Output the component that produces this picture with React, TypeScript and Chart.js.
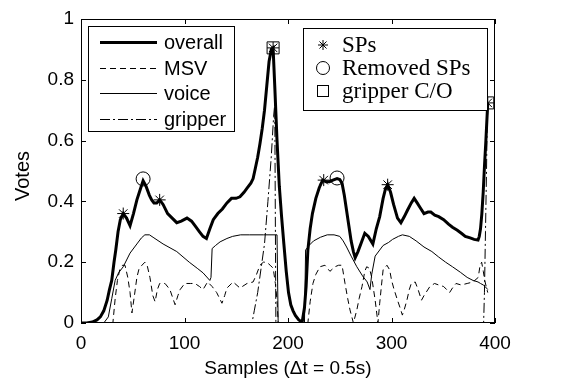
import { useEffect, useRef } from 'react';
import { Chart, registerables } from 'chart.js';

Chart.register(...registerables);

// ---- data (samples, votes) ----
const overallSamples = [0, 5.5, 11, 15.4, 18.7, 22, 25.3, 27.5, 29.7, 31.9, 33.6, 35.8, 38, 40.8, 44, 47.4, 50.7, 54, 57.3, 60, 62.8, 66.1, 68.3, 70.5, 73.2, 76, 79.3, 83.7, 88.1, 92.5, 96.9, 102.4, 106.8, 110.1, 114.5, 117.9, 121.2, 124.5, 127.8, 132.2, 136.6, 141, 145.4, 149.8, 153.6, 157.5, 160.8, 164.1, 166.3, 168.5, 170.7, 172.9, 175.1, 177.3, 179.5, 181.7, 183.9, 185.6, 187.2, 189.4, 191.6, 193.8, 196, 198.3, 200.5, 202.7, 204.9, 207.1, 210.4, 213.7, 215.9, 217.5, 219.2, 221.4, 223.6, 226.9, 230.2, 233.5, 236.8, 240.1, 243.4, 247.4, 250, 252.2, 254.4, 256.6, 258.8, 261, 263.2, 264.9, 267.6, 270.9, 274.2, 277.6, 282, 285.3, 288.6, 291.9, 294.1, 296.3, 299.1, 302, 305.8, 309.1, 312.4, 315.3, 319.1, 321.9, 324.8, 327.6, 331.4, 335.2, 338, 341.8, 345.6, 350.4, 355.1, 358.9, 363.6, 367.5, 371.3, 376, 379.8, 383.6, 384.8, 386, 387.3, 388.6, 389.9, 391.2, 392.2, 393];
const overallVotes = [0, 0, 0.003, 0.01, 0.02, 0.04, 0.075, 0.11, 0.14, 0.2, 0.24, 0.3, 0.34, 0.36, 0.345, 0.32, 0.36, 0.405, 0.44, 0.468, 0.45, 0.42, 0.405, 0.395, 0.395, 0.405, 0.39, 0.36, 0.345, 0.33, 0.335, 0.345, 0.335, 0.32, 0.3, 0.285, 0.278, 0.31, 0.34, 0.36, 0.375, 0.395, 0.41, 0.41, 0.415, 0.43, 0.445, 0.46, 0.475, 0.51, 0.545, 0.59, 0.64, 0.7, 0.78, 0.86, 0.9, 0.905, 0.78, 0.6, 0.45, 0.35, 0.26, 0.17, 0.1, 0.06, 0.04, 0.025, 0.01, 0.003, 0.05, 0.12, 0.24, 0.31, 0.36, 0.41, 0.445, 0.47, 0.465, 0.465, 0.47, 0.475, 0.472, 0.46, 0.42, 0.37, 0.32, 0.27, 0.235, 0.215, 0.235, 0.265, 0.295, 0.285, 0.26, 0.31, 0.35, 0.41, 0.44, 0.455, 0.43, 0.39, 0.345, 0.33, 0.35, 0.37, 0.395, 0.41, 0.395, 0.38, 0.36, 0.365, 0.365, 0.355, 0.35, 0.34, 0.325, 0.315, 0.305, 0.295, 0.285, 0.28, 0.275, 0.273, 0.285, 0.31, 0.36, 0.43, 0.52, 0.6, 0.67, 0.724];

const msvSamples = [0, 30.8, 33, 35.2, 37.4, 40.2, 42.5, 45.2, 47.4, 49.2, 51.2, 54, 56.2, 58.9, 61.7, 63.9, 66.6, 69.4, 71.6, 73.8, 76, 81.2, 85.9, 90.9, 93.6, 95.8, 100.2, 105.7, 110.1, 114.5, 117.9, 122.3, 126.7, 131.1, 136.2, 138.8, 141, 147, 153.6, 160.4, 166.3, 169.6, 172.9, 176.2, 179.5, 182.8, 185.7, 187.8, 189.4, 190.5, 219.2, 221.4, 224.1, 226.9, 230.9, 235.7, 240.5, 245.4, 248.9, 252.2, 255.1, 257.7, 259.9, 263.2, 266.5, 268.7, 271.5, 274.2, 276, 278.7, 280.9, 284.2, 286.9, 288.6, 290.2, 291.9, 295.6, 298.2, 300.1, 302.5, 305.8, 308.3, 310.5, 312.4, 314.9, 317.2, 319.1, 322.9, 325.7, 329, 331.4, 333.3, 337.1, 341.6, 345.6, 350.4, 353.3, 356.1, 358.9, 362.3, 367.4, 373.1, 378.8, 383.8, 385.6, 387.1, 388.7, 390.1, 391.5, 393];
const msvVotes = [0, 0, 0.08, 0.14, 0.175, 0.19, 0.19, 0.15, 0.1, 0.033, 0.08, 0.15, 0.18, 0.19, 0.2, 0.19, 0.15, 0.09, 0.07, 0.11, 0.13, 0.13, 0.11, 0.06, 0.09, 0.11, 0.13, 0.13, 0.13, 0.12, 0.11, 0.135, 0.12, 0.1, 0.065, 0.09, 0.115, 0.135, 0.115, 0.13, 0.135, 0.16, 0.19, 0.2, 0.2, 0.19, 0.18, 0.13, 0.075, 0, 0, 0.07, 0.13, 0.16, 0.185, 0.19, 0.17, 0.185, 0.19, 0.19, 0.13, 0.08, 0.043, 0, 0.043, 0.08, 0.12, 0.17, 0.185, 0.18, 0.15, 0.075, 0, 0.065, 0.12, 0.175, 0.19, 0.175, 0.14, 0.11, 0.075, 0.05, 0.026, 0.045, 0.075, 0.11, 0.13, 0.135, 0.11, 0.075, 0.09, 0.1, 0.12, 0.13, 0.125, 0.12, 0.11, 0.1, 0.115, 0.13, 0.125, 0.13, 0.135, 0.15, 0.19, 0.2, 0.17, 0.14, 0.12, 0.1];

const voiceSamples = [0, 22, 26.4, 29.7, 33, 36.3, 40.8, 47.4, 54, 58.4, 61.7, 66.1, 70.5, 79.3, 92.5, 104.6, 112.3, 117.9, 124.5, 125.6, 126.7, 130, 134.4, 141, 146.5, 154.2, 163, 176.2, 189.4, 190.5, 215.9, 217, 220.3, 224.7, 231.3, 237.9, 244.5, 250, 253.3, 256.6, 261, 266.5, 272, 276.5, 279.2, 280.9, 284.2, 288.6, 291.9, 297.2, 301, 306.7, 310.5, 317.2, 323.8, 331.4, 339, 345.6, 352.3, 358.9, 366.5, 373.1, 378.8, 383.6, 386, 388.7, 391, 393];
const voiceVotes = [0, 0, 0.02, 0.08, 0.14, 0.165, 0.185, 0.23, 0.26, 0.28, 0.29, 0.29, 0.28, 0.26, 0.235, 0.2, 0.18, 0.165, 0.14, 0.15, 0.245, 0.255, 0.267, 0.278, 0.285, 0.29, 0.29, 0.29, 0.29, 0, 0, 0.24, 0.255, 0.27, 0.282, 0.29, 0.29, 0.285, 0.27, 0.25, 0.22, 0.185, 0.155, 0.135, 0.11, 0.16, 0.22, 0.24, 0.255, 0.265, 0.275, 0.285, 0.29, 0.285, 0.27, 0.25, 0.235, 0.217, 0.2, 0.185, 0.167, 0.15, 0.14, 0.135, 0.13, 0.125, 0.118, 0.11];

const gripperSamples = [0, 165.2, 167.4, 170.7, 174, 177.3, 180.6, 183.9, 186.1, 187.2, 188.3, 389, 389.8, 390.8, 391.8, 392.4, 393];
const gripperVotes = [0, 0, 0.04, 0.1, 0.18, 0.26, 0.4, 0.55, 0.68, 0.72, 0, 0, 0.1, 0.3, 0.5, 0.65, 0.7];

const spSamples = [40.8, 76, 185.6, 234.5, 296.3, 393];
const spVotes = [0.36, 0.405, 0.905, 0.47, 0.455, 0.724];
const removedSamples = [60, 247.4];
const removedVotes = [0.474, 0.477];
const gripperCOSamples = [185.6, 393];
const gripperCOVotes = [0.905, 0.724];

const xTicks = [0, 100, 200, 300, 400];
const yTicks = [0, 0.2, 0.4, 0.6, 0.8, 1];
const lineLegend = ['overall', 'MSV', 'voice', 'gripper'];
const markerLegend = ['SPs', 'Removed SPs', 'gripper C/O'];
const xTitle = 'Samples (Δt = 0.5s)';
const yTitle = 'Votes';

const pts = (xs: number[], ys: number[]) => xs.map((x, i) => ({ x, y: ys[i] }));
const fmt = (v: any) => String(Math.round(Number(v) * 10) / 10);

const SANS = '"Liberation Sans", Arial, Helvetica, sans-serif';
const SERIF = '"Liberation Serif", "Times New Roman", serif';

function drawStar(ctx: CanvasRenderingContext2D, x: number, y: number, r: number) {
  ctx.beginPath();
  for (let k = 0; k < 4; k++) {
    const a = (k * Math.PI) / 4;
    ctx.moveTo(x - r * Math.cos(a), y - r * Math.sin(a));
    ctx.lineTo(x + r * Math.cos(a), y + r * Math.sin(a));
  }
  ctx.stroke();
}

const framePlugin = {
  id: 'frame',
  afterDraw(chart: any) {
    const { ctx, chartArea: a, scales } = chart;
    const xs = scales.x;
    const ys = scales.y;
    ctx.save();
    ctx.strokeStyle = '#000';
    ctx.lineWidth = 1;
    ctx.setLineDash([]);
    ctx.strokeRect(Math.round(a.left) + 0.5, Math.round(a.top) + 0.5, Math.round(a.right - a.left) - 1, Math.round(a.bottom - a.top) - 1);
    const tl = 5;
    ctx.beginPath();
    xTicks.forEach((v) => {
      const px = Math.round(xs.getPixelForValue(v)) + 0.5;
      ctx.moveTo(px, a.bottom);
      ctx.lineTo(px, a.bottom - tl);
      ctx.moveTo(px, a.top);
      ctx.lineTo(px, a.top + tl);
    });
    yTicks.forEach((v) => {
      const py = Math.round(ys.getPixelForValue(v)) + 0.5;
      ctx.moveTo(a.left, py);
      ctx.lineTo(a.left + tl, py);
      ctx.moveTo(a.right, py);
      ctx.lineTo(a.right - tl, py);
    });
    ctx.stroke();

    // y axis title
    ctx.save();
    ctx.translate(23, (a.top + a.bottom) / 2 + 5);
    ctx.rotate(-Math.PI / 2);
    ctx.font = `20px ${SANS}`;
    ctx.fillStyle = '#000';
    ctx.textAlign = 'center';
    ctx.textBaseline = 'middle';
    ctx.fillText(yTitle, 0, 0);
    ctx.restore();

    // left legend (line styles)
    ctx.fillStyle = '#fff';
    ctx.fillRect(88.5, 26.5, 146, 105);
    ctx.strokeRect(88.5, 26.5, 146, 105);
    const rows = [42, 68, 93, 119];
    const styles = [
      { w: 3, dash: [] as number[] },
      { w: 1, dash: [6, 4] },
      { w: 1, dash: [] as number[] },
      { w: 1, dash: [10, 3, 2, 3] },
    ];
    ctx.font = `20px ${SANS}`;
    ctx.textBaseline = 'middle';
    ctx.textAlign = 'left';
    lineLegend.forEach((label, i) => {
      ctx.save();
      ctx.lineWidth = styles[i].w;
      ctx.setLineDash(styles[i].dash);
      ctx.beginPath();
      ctx.moveTo(100, rows[i] + 0.5);
      ctx.lineTo(157, rows[i] + 0.5);
      ctx.stroke();
      ctx.restore();
      ctx.fillStyle = '#000';
      ctx.fillText(label, 164, rows[i] + 1);
    });

    // right legend (markers)
    ctx.fillStyle = '#fff';
    ctx.fillRect(303.5, 28.5, 184, 82);
    ctx.strokeStyle = '#000';
    ctx.strokeRect(303.5, 28.5, 184, 82);
    const mrows = [45, 68, 91];
    ctx.lineWidth = 1;
    drawStar(ctx, 323, mrows[0], 5);
    ctx.beginPath();
    ctx.arc(323, mrows[1], 6.5, 0, Math.PI * 2);
    ctx.stroke();
    ctx.strokeRect(317.5, mrows[2] - 5.5, 11, 11);
    ctx.font = `23px ${SERIF}`;
    ctx.fillStyle = '#000';
    markerLegend.forEach((label, i) => ctx.fillText(label, 342, mrows[i] + 1));
    ctx.restore();
  },
};

export default function App() {
  const ref = useRef<HTMLCanvasElement>(null);
  useEffect(() => {
    document.body.style.margin = '0';
    const canvas = ref.current;
    if (!canvas) return;
    const chart = new Chart(canvas, {
      type: 'line',
      data: {
        datasets: [
          { label: 'SPs', data: pts(spSamples, spVotes), showLine: false, pointStyle: 'star', pointRadius: 6, borderColor: '#000', backgroundColor: 'rgba(0,0,0,0)', borderWidth: 1, order: 0, clip: false } as any,
          { label: 'Removed SPs', data: pts(removedSamples, removedVotes), showLine: false, pointStyle: 'circle', pointRadius: 7, borderColor: '#000', backgroundColor: 'rgba(0,0,0,0)', borderWidth: 1, order: 0, clip: false },
          { label: 'gripper C/O', data: pts(gripperCOSamples, gripperCOVotes), showLine: false, pointStyle: 'rect', pointRadius: 8.5, borderColor: '#000', backgroundColor: 'rgba(0,0,0,0)', borderWidth: 1, order: 0, clip: false },
          { label: 'overall', data: pts(overallSamples, overallVotes), borderColor: '#000', borderWidth: 3, pointRadius: 0, tension: 0, order: 1 },
          { label: 'voice', data: pts(voiceSamples, voiceVotes), borderColor: '#000', borderWidth: 1, pointRadius: 0, tension: 0, order: 2 },
          { label: 'MSV', data: pts(msvSamples, msvVotes), borderColor: '#000', borderWidth: 1, borderDash: [6, 4], pointRadius: 0, tension: 0, order: 3 },
          { label: 'gripper', data: pts(gripperSamples, gripperVotes), borderColor: '#000', borderWidth: 1, borderDash: [10, 3, 2, 3], pointRadius: 0, tension: 0, order: 4 },
        ],
      },
      options: {
        responsive: false,
        animation: false,
        devicePixelRatio: 1,
        layout: { padding: { top: 19, right: 67, left: 0, bottom: 0 } },
        plugins: { legend: { display: false }, tooltip: { enabled: false } },
        scales: {
          x: {
            type: 'linear',
            min: 0,
            max: 400,
            afterBuildTicks: (s: any) => { s.ticks = xTicks.map((v) => ({ value: v })); },
            ticks: { color: '#000', font: { family: SANS, size: 19 }, padding: 9, maxRotation: 0, autoSkip: false, callback: fmt },
            grid: { display: false, drawTicks: false },
            border: { display: false },
            title: { display: true, text: xTitle, color: '#000', font: { family: SANS, size: 19 }, padding: { top: 0, bottom: 1 } },
            afterFit: (s: any) => { s.height = 58; s.paddingLeft = 0; s.paddingRight = 0; },
          },
          y: {
            type: 'linear',
            min: 0,
            max: 1,
            afterBuildTicks: (s: any) => { s.ticks = yTicks.map((v) => ({ value: v })); },
            ticks: { color: '#000', font: { family: SANS, size: 19 }, padding: 7, autoSkip: false, callback: fmt },
            grid: { display: false, drawTicks: false },
            border: { display: false },
            afterFit: (s: any) => { s.width = 81; s.paddingTop = 0; s.paddingBottom = 0; },
          },
        },
      },
      plugins: [framePlugin],
    });
    return () => chart.destroy();
  }, []);
  return <canvas ref={ref} width={562} height={381} style={{ display: 'block', width: 562, height: 381 }} />;
}
